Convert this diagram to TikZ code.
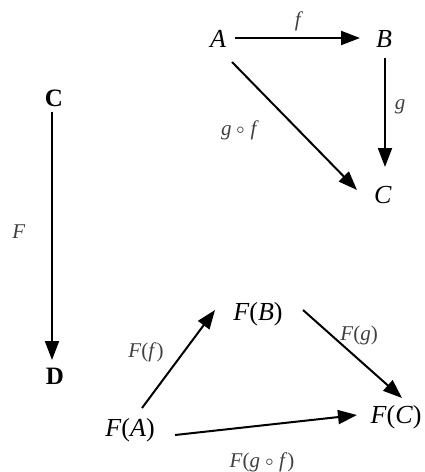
\documentclass[tikz,border=0pt]{standalone}
\usepackage{fontspec}
\setmainfont{Liberation Serif}
\usepackage{unicode-math}
\setmathfont{Latin Modern Math}
\usetikzlibrary{arrows.meta}
\begin{document}
\begin{tikzpicture}[x=1pt,y=-1pt,
  obj/.style={inner sep=0pt,font=\fontsize{26}{30}\selectfont},
  cat/.style={inner sep=0pt,font=\fontsize{25}{30}\selectfont\bfseries},
  lbl/.style={inner sep=0pt,font=\fontsize{21}{24}\selectfont,text=black!75},
  arr/.style={line width=2pt,-{Triangle[length=19pt,width=14pt]}}]
\useasboundingbox (0,0) rectangle (424,472);
% top triangle
\node[obj] (A) at (218,39) {\textit{A}};
\node[obj] (B) at (384,39) {\textit{B}};
\node[obj] (C) at (383,195) {\textit{C}};
\draw[arr] ([shift={(17,-1)}]A.center) -- ([shift={(-24,-1)}]B.center);
\draw[arr] ([shift={(1,19)}]B.center) -- ([shift={(2,-28)}]C.center);
\draw[arr] ([shift={(14,23)}]A.center) -- ([shift={(-26,-5)}]C.center);
\node[lbl] (lf) at (299,21) {\textit{f}};
\node[lbl] (lg) at (400,107) {\textit{g}};
\node[lbl] (lgf) at (240,130) {\textit{g} $\circ$ \textit{f}};
% functor
\node[cat] (cC) at (54,98) {C};
\node[cat] (cD) at (55,376) {D};
\draw[arr] ([shift={(-2,14)}]cC.center) -- ([shift={(-3,-16)}]cD.center);
\node[lbl] (lF) at (19,232) {\textit{F}};
% bottom triangle
\node[obj] (FA) at (130,430) {\textit{F}(\textit{A})};
\node[obj] (FB) at (258,314) {\textit{F}(\textit{B})};
\node[obj] (FC) at (396,417) {\textit{F}(\textit{C})};
\draw[arr] ([shift={(12,-22)}]FA.center) -- ([shift={(-43,-4)}]FB.center);
\draw[arr] ([shift={(45,-4)}]FB.center) -- ([shift={(6,-19)}]FC.center);
\draw[arr] ([shift={(45,5)}]FA.center) -- ([shift={(-39,-2)}]FC.center);
\node[lbl] (lFf) at (146,352) {\textit{F}(\textit{f})};
\node[lbl] (lFg) at (359,335) {\textit{F}(\textit{g})};
\node[lbl] (lFgf) at (262,462) {\textit{F}(\textit{g} $\circ$ \textit{f})};
\end{tikzpicture}
\end{document}
